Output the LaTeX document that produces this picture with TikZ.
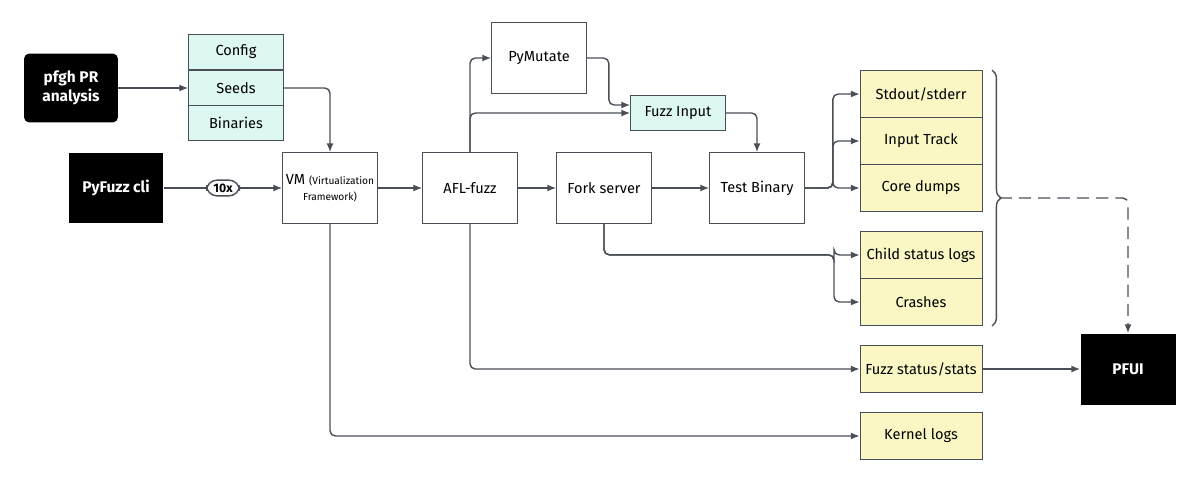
\documentclass[tikz,border=0pt]{standalone}
\usepackage{fontspec}
\setmainfont{Fira Sans}
\usetikzlibrary{arrows.meta, positioning, decorations.pathreplacing}
\definecolor{line}{HTML}{4A4F57}
\definecolor{aqua}{HTML}{DDF7F3}
\definecolor{cream}{HTML}{FAF7C4}
\begin{document}
\begin{tikzpicture}[x=0.02cm, y=-0.02cm, font=\fontsize{8.3}{10}\selectfont]
\tikzstyle{blk} = [rectangle, fill=black, text=white, font=\fontsize{8.8}{11}\selectfont\bfseries, minimum width=1.9cm, minimum height=1.42cm, align=center, inner sep=0pt]
\tikzstyle{proc} = [rectangle, draw=line, fill=white, minimum width=1.9cm, minimum height=1.42cm, align=center, inner sep=0pt]
\tikzstyle{inp} = [rectangle, draw=line, fill=aqua, minimum width=1.9cm, minimum height=0.71cm, inner sep=0pt]
\tikzstyle{outbox} = [rectangle, draw=line, fill=cream, minimum width=2.44cm, minimum height=0.94cm, inner sep=0pt]
\tikzstyle{flow} = [draw=line, thick, rounded corners=3pt, -{Latex[length=5pt,width=4pt]}]
\useasboundingbox (0,0) rectangle (1200,484);
% sources
\node[blk, rounded corners=3pt, minimum width=1.88cm, minimum height=1.38cm] (pfgh) at (71,88) {pfgh PR\\analysis};
\node[blk] (cli) at (116,188) {PyFuzz cli};
\node[inp] (config) at (236,52) {Config};
\node[inp] (seeds) at (236,88) {Seeds};
\node[inp] (bins) at (236,123) {Binaries};
% processing chain
\node[proc] (vm) at (330,188) {VM {\fontsize{5.8}{11}\selectfont (Virtualization}\\[-1pt]{\fontsize{5.8}{7}\selectfont Framework)}};
\node[proc] (afl) at (470,188) {AFL-fuzz};
\node[proc] (mutate) at (539,58) {PyMutate};
\node[inp] (fuzzin) at (678,113) {Fuzz Input};
\node[proc] (fork) at (604,188) {Fork server};
\node[proc] (bin) at (757,188) {Test Binary};
% outputs
\node[outbox] (stdout) at (921,94) {Stdout/stderr};
\node[outbox] (track) at (921,141) {Input Track};
\node[outbox] (core) at (921,188) {Core dumps};
\node[outbox] (child) at (921,255) {Child status logs};
\node[outbox] (crash) at (921,302) {Crashes};
\node[outbox] (stats) at (921,369) {Fuzz status/stats};
\node[outbox] (kernel) at (921,436) {Kernel logs};
\node[blk] (pfui) at (1128,369) {PFUI};
% connectors
\draw[flow] (pfgh) -- (seeds);
\draw[flow] (seeds.east) -| (vm.north);
\draw[flow] (cli) -- node[draw=line, fill=white, rounded corners=6pt, inner sep=2pt, minimum width=0.66cm, font=\fontsize{7}{8}\selectfont\bfseries] {10x} (vm);
\draw[flow] (vm) -- (afl);
\draw[flow] (afl) -- (fork);
\draw[flow] (fork) -- (bin);
\draw[flow] (afl.north) |- (mutate.west);
\draw[flow] (afl.north) |- (fuzzin.west);
\draw[flow] (mutate.east) -- ++(22,0) |- ([yshift=0.16cm]fuzzin.west);
\draw[flow] (fuzzin.east) -| (bin.north);
\foreach \t in {stdout, track, core}
  \draw[flow] (bin.east) -- ++(28,0) |- (\t.west);
\foreach \t in {child, crash}
  \draw[flow] (fork.south) |- ++(230,31) |- (\t.west);
\draw[flow] (afl.south) |- (stats.west);
\draw[flow] (vm.south) |- (kernel.west);
\draw[flow] (stats) -- (pfui);
\draw[draw=line, thick, decorate, decoration={brace, amplitude=5pt}] (992,70) -- coordinate[xshift=0.15cm] (tip) (992,326);
\draw[flow, dashed, dash pattern=on 7pt off 4pt, rounded corners=3pt] (tip) -| (pfui.north);
\end{tikzpicture}
\end{document}
